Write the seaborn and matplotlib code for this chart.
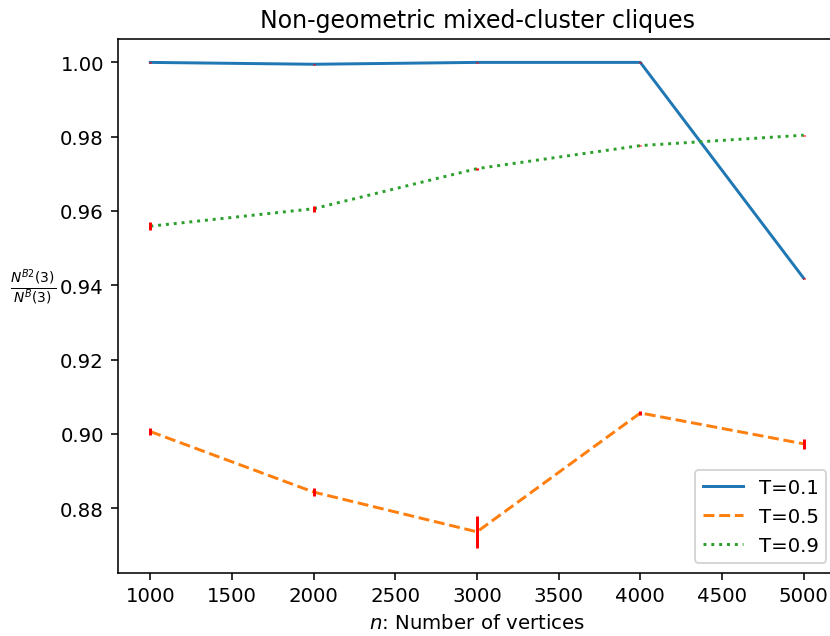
import numpy as np
import pandas as pd
import matplotlib
matplotlib.use("Agg")
import matplotlib.pyplot as plt
import seaborn as sns

n_vertices = [1000, 2000, 3000, 4000, 5000]
series_labels = ["T=0.1", "T=0.5", "T=0.9"]
t01 = [1.0000, 0.9995, 1.0000, 1.0000, 0.9419]
t05 = [0.9006, 0.8843, 0.8736, 0.9056, 0.8973]
t09 = [0.9559, 0.9606, 0.9714, 0.9776, 0.9804]
err01 = [0.0001, 0.0001, 0.0002, 0.0001, 0.0001]
err05 = [0.0010, 0.0011, 0.0043, 0.0005, 0.0013]
err09 = [0.0011, 0.0008, 0.0003, 0.0002, 0.0001]

values = [t01, t05, t09]
errors = [err01, err05, err09]

rows = []
for lab, vals, errs in zip(series_labels, values, errors):
    for n, v, e in zip(n_vertices, vals, errs):
        rows.append({"n": n, "ratio": v, "err": e, "T": lab})
df = pd.DataFrame(rows)

DPI = 142
fig = plt.figure(figsize=(830 / DPI, 637 / DPI), dpi=DPI)
ax = fig.add_axes([0.1418, 0.0994, 0.8658, 0.8378])

palette = ["#1f77b4", "#ff7f0e", "#2ca02c"]
dashes = ["", (3.7, 1.6), (1, 1.65)]
sns.lineplot(data=df, x="n", y="ratio", hue="T", style="T",
             palette=palette, dashes=dashes, linewidth=1.5, ax=ax)

for lab in series_labels:
    sub = df[df["T"] == lab]
    ax.errorbar(sub["n"], sub["ratio"], yerr=sub["err"], fmt="none",
                ecolor="red", elinewidth=1.5, capsize=0, zorder=3)

ax.set_title("Non-geometric mixed-cluster cliques", fontsize=12)
ax.set_xlabel("$n$: Number of vertices", fontsize=10)
ax.set_ylabel(r"$\frac{N^{B2}(3)}{N^{B}(3)}$", rotation=0, fontsize=10,
              ha="center", va="bottom")
ax.yaxis.set_label_coords(-0.118, 0.5)
ax.set_yticks([0.88, 0.90, 0.92, 0.94, 0.96, 0.98, 1.00])
ax.set_xticks([1000, 1500, 2000, 2500, 3000, 3500, 4000, 4500, 5000])
ax.set_ylim(0.8626, 1.0063)
ax.set_xlim(800, 5200)
sns.move_legend(ax, "lower right", title=None, fontsize=10)

fig.savefig("out.png", dpi=DPI)
